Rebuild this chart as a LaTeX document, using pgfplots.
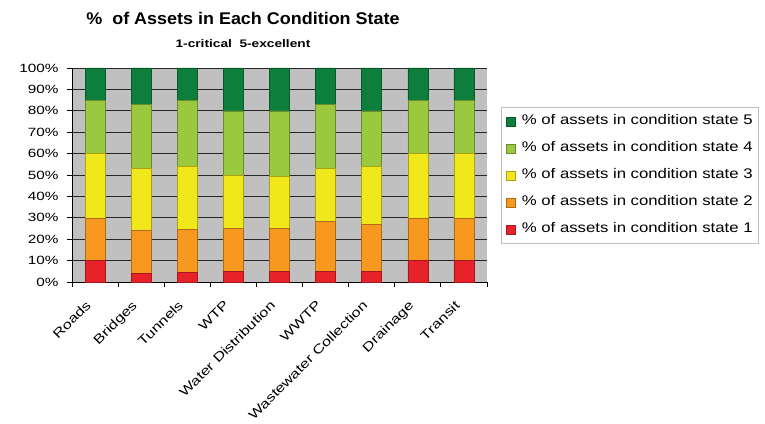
\documentclass[border=0pt]{standalone}
\usepackage{pgfplots}
\pgfplotsset{compat=1.18}
\usepackage{fontspec}
\setmainfont{Liberation Sans}
\newfontfamily\tickfont{Liberation Sans}[FakeStretch=1.28]
\newfontfamily\legfont{Liberation Sans}[FakeStretch=1.2]
\newfontfamily\subfont{Liberation Sans}[FakeStretch=1.25]
\newfontfamily\titlefont{Liberation Sans}[FakeStretch=1.06]

\definecolor{cs5}{HTML}{0E7E3C}
\definecolor{cs4}{HTML}{9AC83E}
\definecolor{cs3}{HTML}{F1E81C}
\definecolor{cs2}{HTML}{F7991E}
\definecolor{cs1}{HTML}{E82229}
\definecolor{plotbg}{HTML}{C0C0C0}

% condition state shares (%) per asset class
\pgfplotstableread{
x  s1   s2   s3   s4   s5
0  10   20   30   25   15
1  4    20   29   30   17
2  4.5  20   29.5 31   15
3  5    20   25   30   20
4  5    20   24.5 30.5 20
5  5    23.5 24.5 30   17
6  5    22   27   26   20
7  10   20   30   25   15
8  10   20   30   25   15
}\datatable

\begin{document}
\begin{tikzpicture}
\useasboundingbox (-72bp,-142bp) rectangle (693bp,282bp);
\begin{axis}[
    at={(0,0)}, anchor=south west,
    scale only axis,
    width=415bp, height=214bp,
    ybar stacked,
    bar width=20bp,
    xmin=-0.5, xmax=8.5,
    ymin=0, ymax=100,
    enlargelimits=false,
    axis background/.style={fill=plotbg},
    axis x line*=bottom,
    axis y line*=left,
    every outer x axis line/.append style={-, line width=0.8pt},
    every outer y axis line/.append style={-, line width=0.8pt},
    tick align=outside,
    major tick length=5bp,
    minor tick length=5bp,
    xtick={0,...,8},
    xticklabels={Roads, Bridges, Tunnels, WTP, Water Distribution, WWTP, Wastewater Collection, Drainage, Transit},
    major x tick style={draw=none},
    minor xtick={-0.5,0.5,...,8.5},
    minor x tick style={black, line width=0.8pt},
    ytick={0,10,...,100},
    yticklabels={0\%,10\%,20\%,30\%,40\%,50\%,60\%,70\%,80\%,90\%,100\%},
    y tick style={black, line width=0.8pt},
    ymajorgrids,
    grid style={black!85, line width=0.8pt},
    x tick label style={font=\tickfont\fontsize{12.8}{15}\selectfont, xshift=-10bp, yshift=-11bp, rotate=45, anchor=north east, inner sep=1bp},
    y tick label style={font=\tickfont\fontsize{12}{14}\selectfont, xshift=-5bp},
    reverse legend,
    legend image code/.code={
        \draw[#1, line width=0.6pt] (0bp,-4.5bp) rectangle (9bp,4.5bp);
        \path (14bp,0bp);
    },
    legend style={
        at={(429bp,175bp)}, anchor=north west,
        draw=black!25, line width=0.6pt,
        font=\legfont\fontsize{14}{16}\selectfont,
        inner xsep=5bp, inner ysep=5.5bp,
        row sep=10bp,
        nodes={inner xsep=1bp, inner ysep=2bp, text height=10bp, text depth=3bp},
        cells={anchor=west},
    },
    clip=false,
]
\addplot[fill=cs1, draw=cs1!70!black, line width=0.6pt] table[x=x, y=s1] {\datatable};
\addlegendentry{\% of assets in condition state 1}
\addplot[fill=cs2, draw=cs2!70!black, line width=0.6pt] table[x=x, y=s2] {\datatable};
\addlegendentry{\% of assets in condition state 2}
\addplot[fill=cs3, draw=cs3!70!black, line width=0.6pt] table[x=x, y=s3] {\datatable};
\addlegendentry{\% of assets in condition state 3}
\addplot[fill=cs4, draw=cs4!70!black, line width=0.6pt] table[x=x, y=s4] {\datatable};
\addlegendentry{\% of assets in condition state 4}
\addplot[fill=cs5, draw=cs5!70!black, line width=0.6pt] table[x=x, y=s5] {\datatable};
\addlegendentry{\% of assets in condition state 5}

\node[anchor=base, font=\titlefont\bfseries\fontsize{17}{20}\selectfont]
    at (rel axis cs:0.412,1) [yshift=43bp] {\%\ \ of Assets in Each Condition State};
\node[anchor=base, font=\subfont\bfseries\fontsize{11}{13}\selectfont]
    at (rel axis cs:0.412,1) [yshift=20bp] {1-critical\ \ 5-excellent};
\end{axis}
\end{tikzpicture}
\end{document}
